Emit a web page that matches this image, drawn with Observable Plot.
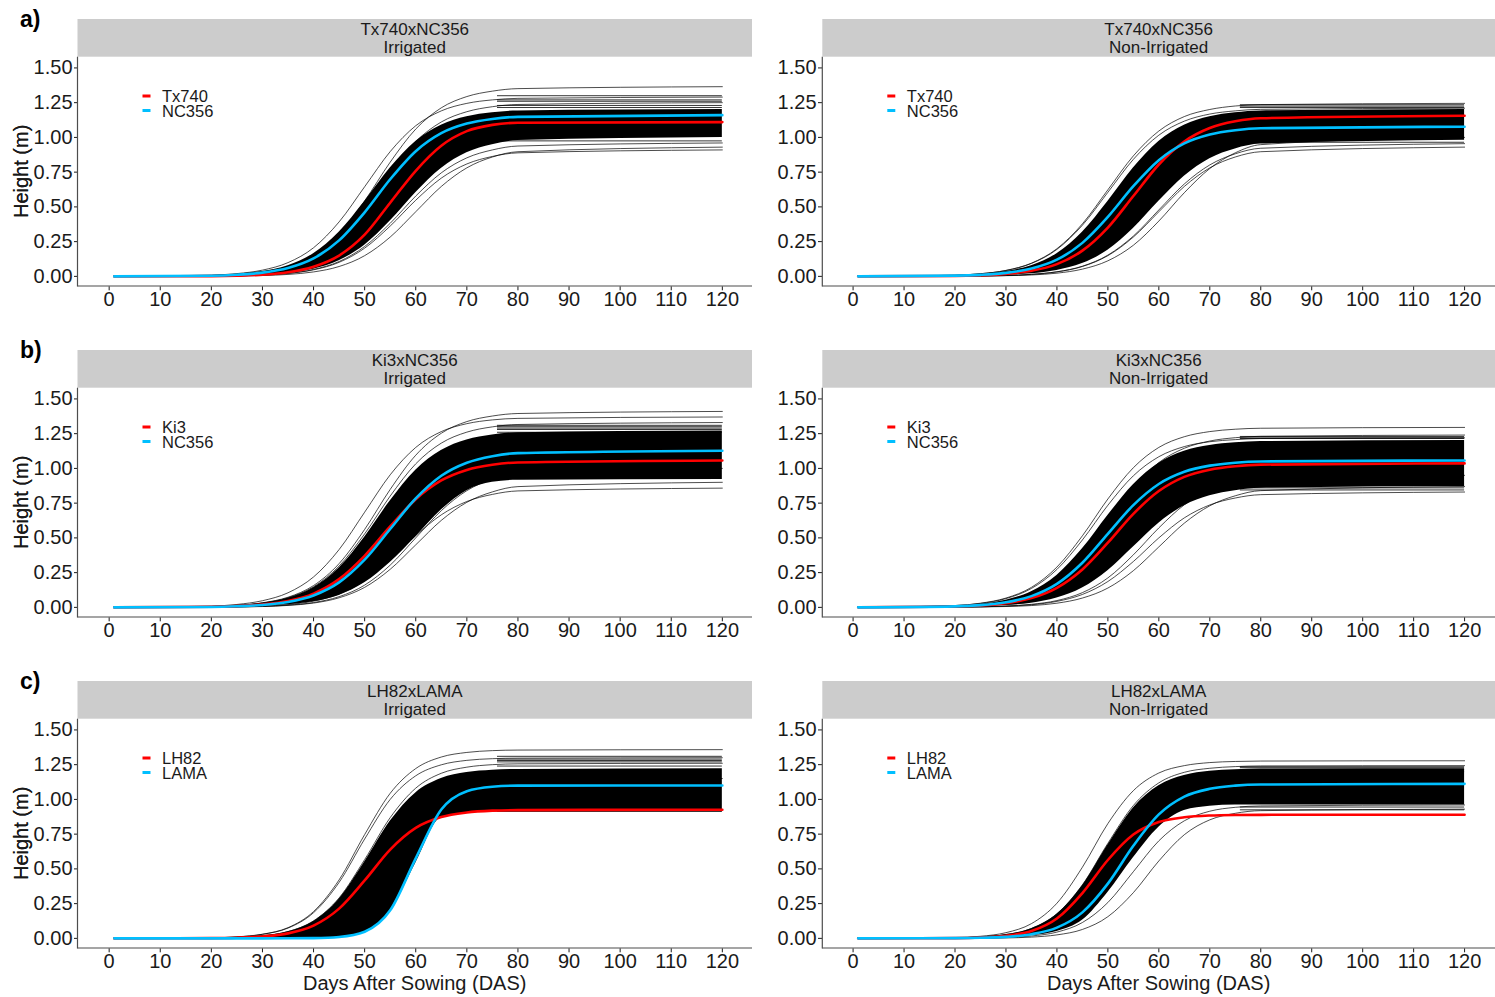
<!DOCTYPE html>
<html>
<head>
<meta charset="utf-8">
<script src="https://cdn.jsdelivr.net/npm/d3@7"></script>
<script src="https://cdn.jsdelivr.net/npm/@observablehq/plot@0.6"></script>
<style>
  body { margin: 0; background: #fff; }
  #fig { position: relative; width: 1495px; height: 997px; overflow: hidden; background: #fff;
         font-family: Arial, "Liberation Sans", sans-serif; }
</style>
</head>
<body>
<div id="fig"></div>
<script>
// ---------------- data ----------------
const days = [1, 20, 25, 30, 35, 40, 45, 50, 55, 60, 65, 70, 75, 80, 120];
const xTicks = [0, 10, 20, 30, 40, 50, 60, 70, 80, 90, 100, 110, 120];
const yTicks = [0, 0.25, 0.5, 0.75, 1, 1.25, 1.5];
const crosses = ["Tx740xNC356", "Ki3xNC356", "LH82xLAMA"];
const conditions = ["Irrigated", "Non-Irrigated"];
const parentNames = [["Tx740", "NC356"], ["Ki3", "NC356"], ["LH82", "LAMA"]];
const rowLabels = ["a)", "b)", "c)"];
const axisTitleX = "Days After Sowing (DAS)";
const axisTitleY = "Height (m)";

// a) Tx740xNC356 Irrigated
const tx_irr_Tx740    = [0,.002,.005,.012,.030,.070,.150,.300,.530,.760,.940,1.045,1.090,1.105,1.11];
const tx_irr_NC356    = [0,.005,.012,.027,.060,.129,.259,.461,.699,.901,1.031,1.100,1.133,1.148,1.16];
const tx_irr_coreHigh = [0,.007,.016,.035,.077,.163,.317,.539,.779,.970,1.087,1.148,1.177,1.190,1.20];
const tx_irr_coreLow  = [0,.002,.005,.010,.023,.052,.112,.224,.398,.602,.776,.889,.948,.977,1.00];
const tx_irr_lines = [
  [0,.006,.014,.032,.071,.152,.305,.543,.822,1.060,1.213,1.294,1.333,1.351,1.365],
  [0,.009,.020,.045,.099,.206,.392,.645,.898,1.084,1.191,1.245,1.270,1.281,1.29],
  [0,.006,.013,.029,.065,.139,.280,.497,.753,.971,1.111,1.185,1.221,1.237,1.25],
  [0,.002,.004,.009,.021,.047,.101,.203,.362,.548,.707,.809,.863,.889,.91],
  [0,.001,.003,.006,.014,.032,.071,.149,.283,.465,.647,.781,.859,.897,.93],
  [0,.002,.004,.010,.022,.050,.107,.215,.382,.578,.745,.853,.910,.938,.96]
];
const tx_irr_flats = [1.30, 1.27, 1.26, 1.23, 1.215, 0.975];

// a) Tx740xNC356 Non-Irrigated
const tx_non_Tx740    = [0,.003,.008,.018,.040,.088,.185,.351,.578,.805,.971,1.068,1.116,1.138,1.156];
const tx_non_NC356    = [0,.005,.011,.025,.056,.120,.241,.428,.649,.836,.957,1.021,1.052,1.066,1.077];
const tx_non_coreHigh = [0,.007,.016,.035,.077,.163,.317,.539,.779,.970,1.087,1.148,1.177,1.190,1.20];
const tx_non_coreLow  = [0,.002,.004,.008,.019,.043,.092,.188,.344,.540,.721,.847,.917,.952,.98];
const tx_non_lines = [
  [0,.008,.019,.043,.095,.199,.378,.623,.867,1.046,1.150,1.201,1.226,1.236,1.245],
  [0,.008,.019,.042,.093,.194,.368,.605,.842,1.016,1.117,1.168,1.191,1.202,1.21],
  [0,.001,.003,.006,.014,.032,.071,.149,.283,.465,.647,.781,.859,.897,.93],
  [0,.001,.003,.006,.015,.033,.073,.153,.290,.478,.665,.802,.882,.922,.955],
  [0,.001,.002,.005,.010,.023,.052,.112,.224,.398,.602,.776,.889,.948,1.00]
];
const tx_non_flats = [1.235, 1.225, 1.215, 0.965];

// b) Ki3xNC356 Irrigated
const ki_irr_Ki3      = [0,.004,.009,.021,.046,.099,.203,.371,.582,.778,.913,.989,1.026,1.043,1.057];
const ki_irr_NC356    = [0,.003,.008,.017,.039,.086,.180,.343,.564,.784,.947,1.041,1.088,1.110,1.127];
const ki_irr_coreHigh = [0,.006,.013,.030,.066,.142,.284,.505,.765,.986,1.128,1.204,1.240,1.257,1.27];
const ki_irr_coreLow  = [0,.002,.003,.008,.018,.040,.086,.177,.323,.507,.700,.840,.900,.915,.92];
const ki_irr_lines = [
  [0,.006,.015,.033,.073,.157,.315,.561,.849,1.095,1.253,1.337,1.377,1.395,1.41],
  [0,.009,.021,.048,.105,.219,.416,.685,.954,1.151,1.265,1.322,1.349,1.360,1.37],
  [0,.006,.014,.031,.069,.148,.297,.529,.801,1.033,1.182,1.261,1.299,1.316,1.33],
  [0,.002,.004,.009,.020,.045,.096,.192,.341,.517,.666,.762,.813,.838,.858],
  [0,.001,.003,.006,.014,.031,.069,.144,.274,.450,.626,.756,.831,.869,.90],
  [0,.001,.003,.007,.016,.035,.077,.160,.304,.500,.696,.840,.924,.965,1.00]
];
const ki_irr_flats = [1.31, 1.30, 1.29, 1.28, 1.26];

// b) Ki3xNC356 Non-Irrigated
const ki_non_Ki3      = [0,.006,.013,.030,.067,.141,.273,.465,.673,.837,.939,.991,1.016,1.027,1.036];
const ki_non_NC356    = [0,.007,.016,.037,.081,.169,.321,.529,.736,.888,.976,1.020,1.041,1.050,1.057];
const ki_non_coreHigh = [0,.010,.023,.052,.113,.230,.421,.661,.883,1.037,1.123,1.165,1.184,1.193,1.20];
const ki_non_coreLow  = [0,.003,.006,.013,.030,.067,.139,.264,.435,.606,.731,.803,.840,.857,.87];
const ki_non_lines = [
  [0,.013,.030,.067,.144,.290,.515,.780,1.005,1.151,1.228,1.265,1.282,1.289,1.295],
  [0,.008,.019,.043,.095,.198,.377,.620,.863,1.042,1.145,1.197,1.221,1.231,1.24],
  [0,.013,.028,.063,.136,.273,.485,.735,.947,1.084,1.157,1.192,1.207,1.215,1.22],
  [0,.002,.004,.009,.019,.043,.093,.186,.330,.500,.644,.737,.787,.811,.83],
  [0,.001,.003,.006,.013,.030,.067,.139,.264,.435,.606,.731,.803,.840,.87],
  [0,.002,.004,.010,.022,.049,.106,.212,.378,.572,.738,.844,.901,.928,.95]
];
const ki_non_flats = [1.23, 1.22, 1.215, 0.86, 0.845];

// c) LH82xLAMA Irrigated
const lh_irr_LH82     = [0,.002,.005,.014,.036,.092,.214,.417,.639,.795,.873,.906,.919,.923,.926];
const lh_irr_LAMA     = [0,0,0,0,.0004,.002,.010,.048,.202,.576,.927,1.059,1.091,1.099,1.10];
const lh_irr_coreHigh = [0,.002,.007,.018,.048,.122,.282,.549,.842,1.047,1.150,1.193,1.210,1.216,1.22];
const lh_irr_coreLow  = [0,0,0,0,.0003,.002,.009,.045,.190,.540,.870,.900,.910,.910,.91];
const lh_irr_lines = [
  [0,.004,.011,.030,.077,.193,.421,.747,1.044,1.222,1.305,1.338,1.351,1.355,1.358],
  [0,.004,.010,.029,.074,.185,.403,.715,1.000,1.170,1.249,1.281,1.293,1.297,1.30],
  [0,.003,.007,.019,.049,.126,.291,.567,.869,1.081,1.188,1.232,1.250,1.256,1.26],
  [0,0,0,0,.001,.005,.023,.095,.332,.743,1.025,1.119,1.143,1.149,1.15]
];
const lh_irr_flats = [1.31, 1.29, 1.28, 1.27, 1.24, 0.915];

// c) LH82xLAMA Non-Irrigated
const lh_non_LH82     = [0,.002,.006,.019,.053,.143,.326,.564,.747,.837,.871,.884,.888,.889,.89];
const lh_non_LAMA     = [0,.002,.004,.011,.030,.077,.187,.394,.666,.892,1.020,1.076,1.099,1.107,1.112];
const lh_non_coreHigh = [0,.004,.010,.027,.070,.173,.378,.671,.938,1.098,1.172,1.202,1.213,1.218,1.22];
const lh_non_coreLow  = [0,0,.002,.006,.020,.050,.130,.330,.580,.800,.920,.950,.960,.960,.96];
const lh_non_lines = [
  [0,.006,.015,.041,.106,.253,.512,.826,1.063,1.190,1.243,1.265,1.273,1.276,1.278],
  [0,.004,.010,.027,.071,.177,.385,.684,.956,1.119,1.195,1.224,1.236,1.241,1.243],
  [0,0,.001,.003,.009,.025,.064,.156,.329,.557,.746,.853,.900,.919,.93],
  [0,.001,.002,.006,.017,.045,.114,.258,.480,.702,.846,.915,.943,.953,.96]
];
const lh_non_flats = [1.235, 1.228, 1.215, 1.20, 0.945, 0.925];

const flatSpan = [76, 120];

// ---------------- layout ----------------
const RED = "#FF0000", BLUE = "#00BFFF";
const ROW_STEP = 331;
const STRIP_TOP = 19, STRIP_H = 37.7, PLOT_H = 229.3;
const COL_LEFT = [77.5, 822.3];
const COL_W = [674.5, 672.7];
const ML = 78, MB = 40;
const FONT = 'Arial, "Liberation Sans", sans-serif';

const panels = [
  {row: 0, col: 0, red: tx_irr_Tx740, blue: tx_irr_NC356, hi: tx_irr_coreHigh, lo: tx_irr_coreLow, lines: tx_irr_lines, flats: tx_irr_flats},
  {row: 0, col: 1, red: tx_non_Tx740, blue: tx_non_NC356, hi: tx_non_coreHigh, lo: tx_non_coreLow, lines: tx_non_lines, flats: tx_non_flats},
  {row: 1, col: 0, red: ki_irr_Ki3,   blue: ki_irr_NC356, hi: ki_irr_coreHigh, lo: ki_irr_coreLow, lines: ki_irr_lines, flats: ki_irr_flats},
  {row: 1, col: 1, red: ki_non_Ki3,   blue: ki_non_NC356, hi: ki_non_coreHigh, lo: ki_non_coreLow, lines: ki_non_lines, flats: ki_non_flats},
  {row: 2, col: 0, red: lh_irr_LH82,  blue: lh_irr_LAMA,  hi: lh_irr_coreHigh, lo: lh_irr_coreLow, lines: lh_irr_lines, flats: lh_irr_flats},
  {row: 2, col: 1, red: lh_non_LH82,  blue: lh_non_LAMA,  hi: lh_non_coreHigh, lo: lh_non_coreLow, lines: lh_non_lines, flats: lh_non_flats}
];

const fig = document.getElementById("fig");
const toRows = arr => days.map((d, i) => ({day: d, h: arr[i]}));

panels.forEach(p => {
  const off = p.row * ROW_STEP;
  const left = COL_LEFT[p.col];
  const w = COL_W[p.col];
  const band = days.map((d, i) => ({day: d, lo: p.lo[i], hi: p.hi[i]}));
  const svg = Plot.plot({
    width: ML + w,
    height: PLOT_H + MB,
    marginLeft: ML, marginRight: 0, marginTop: 0, marginBottom: MB,
    style: {fontFamily: FONT, fontSize: "20px", color: "#1a1a1a", background: "transparent", overflow: "visible"},
    x: {domain: [-6, 126], ticks: xTicks, tickSize: 4, tickPadding: 1, label: null},
    y: {domain: [-0.075, 1.575], ticks: yTicks, tickFormat: ".2f", tickSize: 4, tickPadding: 2, label: null},
    marks: [
      Plot.areaY(band, {x: "day", y1: "lo", y2: "hi", fill: "black", curve: "monotone-x"}),
      ...p.lines.map(l => Plot.line(toRows(l), {x: "day", y: "h", stroke: "black", strokeWidth: 0.7, curve: "monotone-x"})),
      Plot.ruleY(p.flats, {y: d => d, x1: flatSpan[0], x2: flatSpan[1], stroke: "black", strokeWidth: 0.8}),
      Plot.line(toRows(p.red), {x: "day", y: "h", stroke: RED, strokeWidth: 2.6, curve: "monotone-x"}),
      Plot.line(toRows(p.blue), {x: "day", y: "h", stroke: BLUE, strokeWidth: 2.6, curve: "monotone-x"})
    ]
  });
  svg.style.position = "absolute";
  svg.style.left = (left - ML) + "px";
  svg.style.top = (STRIP_TOP + STRIP_H + off) + "px";
  svg.style.maxWidth = "none";
  fig.appendChild(svg);
});

// ---------------- overlay: strips, axes lines, legends, titles ----------------
const ov = d3.select(fig).append("svg")
  .attr("width", 1495).attr("height", 997)
  .style("position", "absolute").style("left", "0px").style("top", "0px")
  .style("pointer-events", "none")
  .style("font-family", FONT);

panels.forEach(p => {
  const off = p.row * ROW_STEP;
  const left = COL_LEFT[p.col];
  const w = COL_W[p.col];
  const top = STRIP_TOP + off;
  const g = ov.append("g");
  g.append("rect").attr("x", left).attr("y", top).attr("width", w).attr("height", STRIP_H).attr("fill", "#CCCCCC");
  g.append("text").attr("x", left + w / 2).attr("y", top + 10.5).attr("text-anchor", "middle")
    .attr("dominant-baseline", "central").attr("font-size", 17).attr("fill", "#1a1a1a").text(crosses[p.row]);
  g.append("text").attr("x", left + w / 2).attr("y", top + 28.8).attr("text-anchor", "middle")
    .attr("dominant-baseline", "central").attr("font-size", 17).attr("fill", "#1a1a1a").text(conditions[p.col]);
  // axis lines
  const pt = top + STRIP_H, pb = pt + PLOT_H;
  g.append("line").attr("x1", left).attr("x2", left).attr("y1", pt).attr("y2", pb + 0.5).attr("stroke", "#4d4d4d").attr("stroke-width", 1.2);
  g.append("line").attr("x1", left).attr("x2", left + w).attr("y1", pb).attr("y2", pb).attr("stroke", "#4d4d4d").attr("stroke-width", 1.2);
  // legend
  const names = parentNames[p.row];
  [RED, BLUE].forEach((c, i) => {
    const ly = 96 + off + i * 14.5;
    g.append("rect").attr("x", left + 65).attr("y", ly - 1.5).attr("width", 8).attr("height", 3).attr("fill", c);
    g.append("text").attr("x", left + 84.5).attr("y", ly).attr("dominant-baseline", "central")
      .attr("font-size", 16.5).attr("fill", "#1a1a1a").text(names[i]);
  });
  // y-axis title
  g.append("text").attr("transform", `translate(21,${pt + PLOT_H / 2}) rotate(-90)`)
    .attr("text-anchor", "middle").attr("dominant-baseline", "central")
    .attr("font-size", 20).attr("fill", "#1a1a1a").text(axisTitleY);
  // x-axis title on bottom row
  if (p.row === 2) {
    g.append("text").attr("x", left + w / 2).attr("y", 982.5).attr("text-anchor", "middle")
      .attr("dominant-baseline", "central").attr("font-size", 20).attr("fill", "#1a1a1a").text(axisTitleX);
  }
});

rowLabels.forEach((lab, r) => {
  ov.append("text").attr("x", 20).attr("y", 27 + r * ROW_STEP).attr("font-size", 23)
    .attr("font-weight", "bold").attr("fill", "#000").text(lab);
});
</script>
</body>
</html>
